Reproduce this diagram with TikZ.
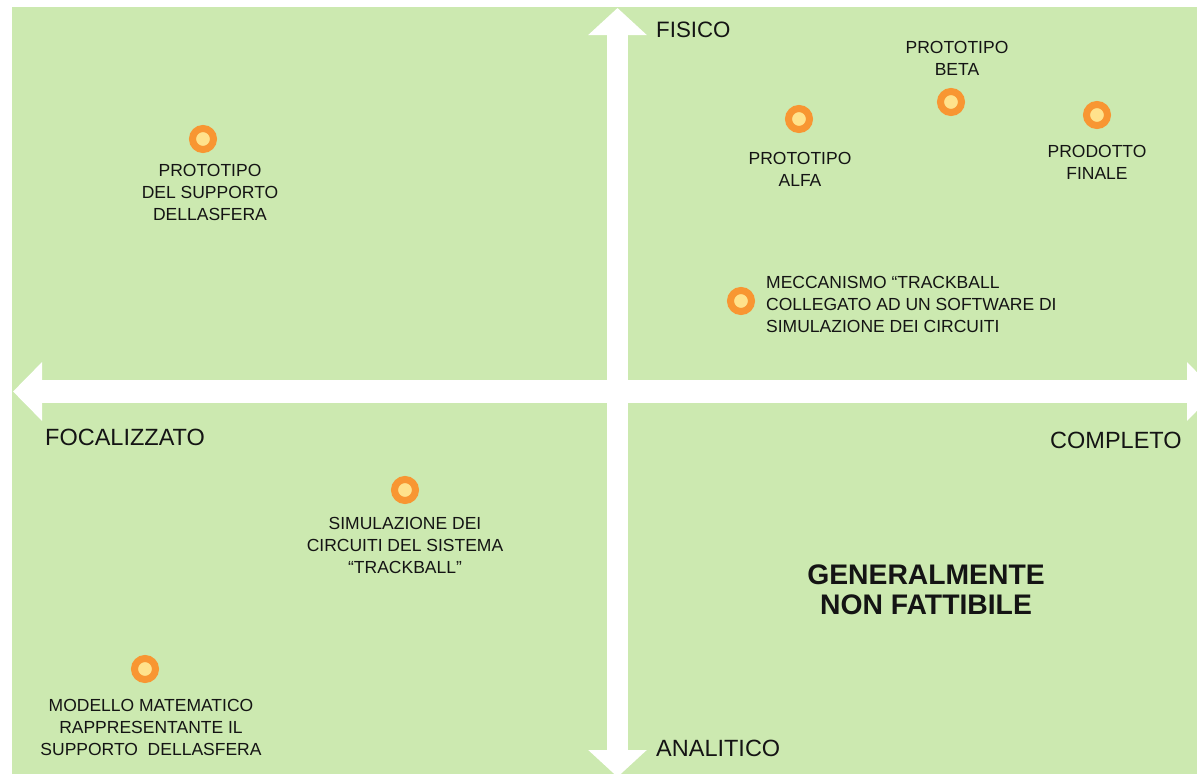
\documentclass[tikz,border=0pt]{standalone}
\usepackage{fontspec}
\setmainfont{Liberation Sans}
\usetikzlibrary{arrows.meta}
\definecolor{field}{RGB}{204,233,176}
\definecolor{ring}{RGB}{248,150,50}
\definecolor{core}{RGB}{255,226,140}
\definecolor{ink}{RGB}{20,20,20}
\begin{document}
\begin{tikzpicture}[x=1pt,y=-1pt,
  axisline/.style={draw=white, line cap=butt},
  marker/.style={circle, draw=ring, line width=7pt, fill=core, minimum size=21pt, inner sep=0pt},
  lbl/.style={font=\fontsize{17.5}{22}\selectfont, align=center, inner sep=0pt, text=ink},
  axislbl/.style={font=\fontsize{23.5}{26}\selectfont, inner sep=0pt, anchor=west, text=ink},
  verdict/.style={font=\bfseries\fontsize{28.3}{30}\selectfont, align=center, inner sep=0pt, text=ink}]
\useasboundingbox (0,0) rectangle (1197,774);
\clip (0,0) rectangle (1197,774);
\fill[white] (0,0) rectangle (1197,774);
\fill[field] (12,7) rectangle (1197,774);

% axes
\coordinate (up) at (617.5,8);
\coordinate (down) at (617.5,777);
\coordinate (left) at (13,391.5);
\coordinate (right) at (1216,391.5);
\draw[axisline, line width=21pt,
  {Triangle[width=57pt,length=27pt]}-{Triangle[width=57pt,length=27pt]}] (down) -- (up);
\draw[axisline, line width=23pt,
  {Triangle[width=57pt,length=29pt]}-{Triangle[width=57pt,length=29pt]}] (left) -- (right);

% axis labels
\node[axislbl, font=\fontsize{22.3}{26}\selectfont] (fisico) at (656,30) {FISICO};
\node[axislbl] (analitico) at (656,748) {ANALITICO};
\node[axislbl] (focal) at (45,437) {FOCALIZZATO};
\node[axislbl] (completo) at (1050,440) {COMPLETO};

% prototypes
\node[marker] (mSupporto) at (203,139) {};
\node[lbl] (tSupporto) at (210,192) {PROTOTIPO\\DEL SUPPORTO\\DELLASFERA};

\node[marker] (mAlfa) at (799,119) {};
\node[lbl] (tAlfa) at (800,169) {PROTOTIPO\\ALFA};

\node[marker] (mBeta) at (951,102) {};
\node[lbl] (tBeta) at (957,58) {PROTOTIPO\\BETA};

\node[marker] (mFinale) at (1097,115) {};
\node[lbl] (tFinale) at (1097,162) {PRODOTTO\\FINALE};

\node[marker] (mMecc) at (741,301) {};
\node[lbl, align=left, anchor=west] (tMecc) at (766,304)
  {MECCANISMO “TRACKBALL\\COLLEGATO AD UN SOFTWARE DI\\SIMULAZIONE DEI CIRCUITI};

\node[marker] (mSim) at (405,490) {};
\node[lbl] (tSim) at (405,545) {SIMULAZIONE DEI\\CIRCUITI DEL SISTEMA\\“TRACKBALL”};

\node[marker] (mModello) at (145,669) {};
\node[lbl] (tModello) at (151,727) {MODELLO MATEMATICO\\RAPPRESENTANTE IL\\SUPPORTO\ \ DELLASFERA};

\node[verdict] (verdict) at (926,590) {GENERALMENTE\\NON FATTIBILE};
\end{tikzpicture}
\end{document}
